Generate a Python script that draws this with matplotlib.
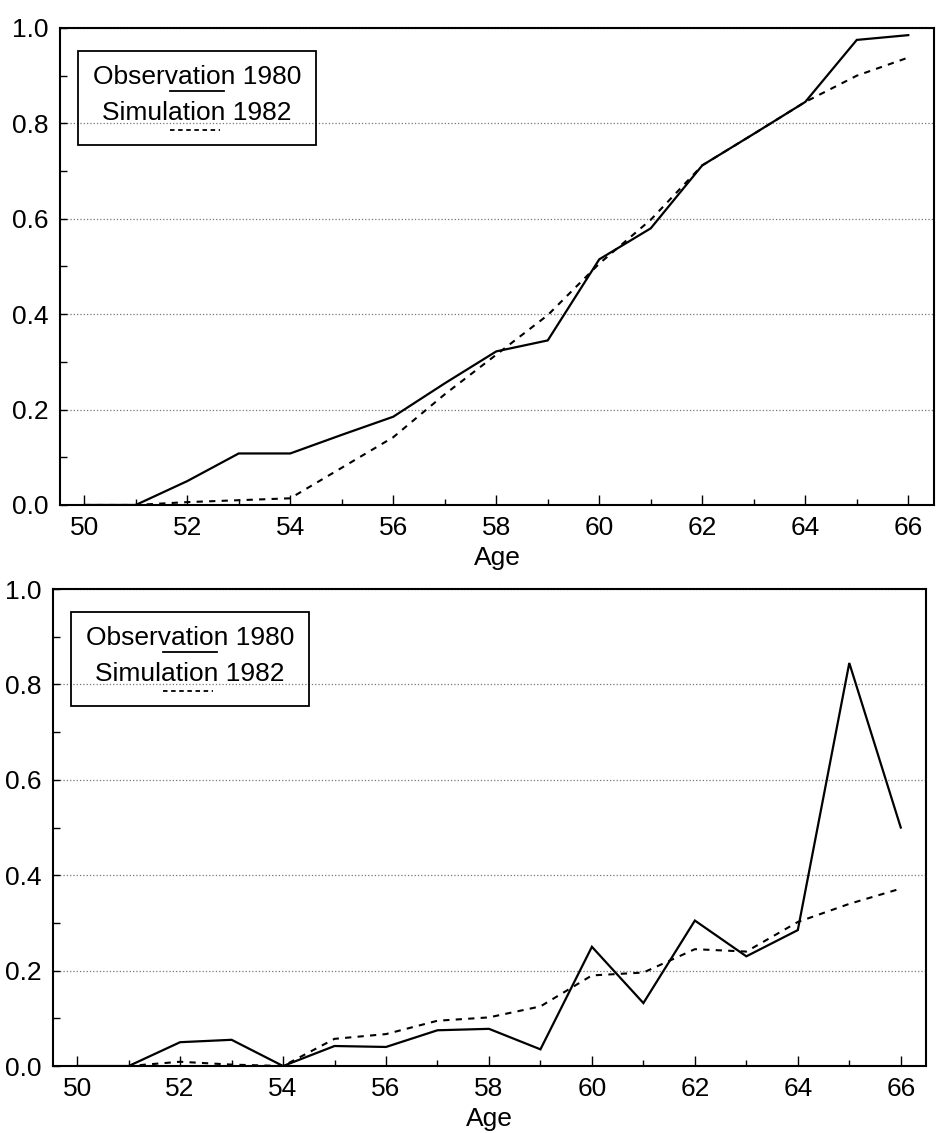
import matplotlib
matplotlib.use('Agg')
import matplotlib.pyplot as plt
from matplotlib.patches import Rectangle
from matplotlib.ticker import MultipleLocator

plt.rcParams['font.family'] = ['Liberation Sans', 'DejaVu Sans']

# ages on the x axis
ages = list(range(50, 67))

# top panel
obs_top = [0.0, 0.0, 0.05, 0.108, 0.108, 0.147, 0.185, 0.255, 0.322, 0.345,
           0.515, 0.58, 0.712, 0.778, 0.845, 0.975, 0.985]
sim_top = [0.0, 0.0, 0.006, 0.01, 0.014, 0.078, 0.142, 0.232, 0.315, 0.398,
           0.506, 0.598, 0.712, 0.778, 0.845, 0.9, 0.938]

# bottom panel
obs_bot = [0.0, 0.0, 0.05, 0.055, 0.0, 0.042, 0.04, 0.075, 0.078, 0.035,
           0.25, 0.132, 0.305, 0.23, 0.285, 0.845, 0.50]
sim_bot = [0.0, 0.0, 0.009, 0.003, 0.0, 0.057, 0.067, 0.095, 0.102, 0.125,
           0.19, 0.196, 0.245, 0.24, 0.302, 0.34, 0.372]

legend_labels = ['Observation 1980', 'Simulation 1982']
xticks = [50, 52, 54, 56, 58, 60, 62, 64, 66]
yticks = [0.0, 0.2, 0.4, 0.6, 0.8, 1.0]

fig = plt.figure(figsize=(9.36, 11.33), dpi=100)
ax1 = fig.add_axes([0.0641, 0.5543, 0.9338, 0.421])
ax2 = fig.add_axes([0.0566, 0.0591, 0.9327, 0.421])


def draw_panel(ax, obs, sim, xlim):
    ax.plot(ages, obs, color='black', lw=1.6, solid_joinstyle='miter')
    ax.plot(ages, sim, color='black', lw=1.5, linestyle=(0, (3, 3)))
    ax.set_xlim(*xlim)
    ax.set_ylim(0, 1.0)
    ax.set_xticks(xticks)
    ax.set_yticks(yticks)
    ax.set_yticklabels([f'{v:.1f}' for v in yticks])
    ax.xaxis.set_minor_locator(MultipleLocator(1))
    ax.yaxis.set_minor_locator(MultipleLocator(0.1))
    ax.tick_params(axis='x', which='major', direction='in', length=7, width=1,
                   labelsize=19, pad=8)
    ax.tick_params(axis='x', which='minor', direction='in', length=4, width=1)
    ax.tick_params(axis='y', which='major', direction='in', length=5, width=1,
                   labelsize=19, pad=8)
    ax.tick_params(axis='y', which='minor', direction='in', length=5, width=1)
    ax.grid(axis='y', which='major', linestyle=':', color='#777777', lw=0.9)
    for s in ax.spines.values():
        s.set_linewidth(1.5)
    ax.set_xlabel('Age', fontsize=19, labelpad=4)

    # legend box with sample lines under the text
    ax.add_patch(Rectangle((0.0206, 0.754), 0.2724, 0.198, transform=ax.transAxes,
                           fill=False, lw=1.3, ec='black', zorder=5))
    ax.text(0.157, 0.897, legend_labels[0], transform=ax.transAxes,
            ha='center', va='center', fontsize=19, zorder=6)
    ax.text(0.157, 0.822, legend_labels[1], transform=ax.transAxes,
            ha='center', va='center', fontsize=19, zorder=6)
    ax.plot([0.126, 0.188], [0.867, 0.867], transform=ax.transAxes,
            color='black', lw=1.3, zorder=6)
    ax.plot([0.126, 0.183], [0.787, 0.787], transform=ax.transAxes,
            color='black', lw=1.3, linestyle=(0, (2.5, 2)), zorder=6)


draw_panel(ax1, obs_top, sim_top, (49.53, 66.5))
draw_panel(ax2, obs_bot, sim_bot, (49.53, 66.49))

fig.savefig('out.png', dpi=100)
